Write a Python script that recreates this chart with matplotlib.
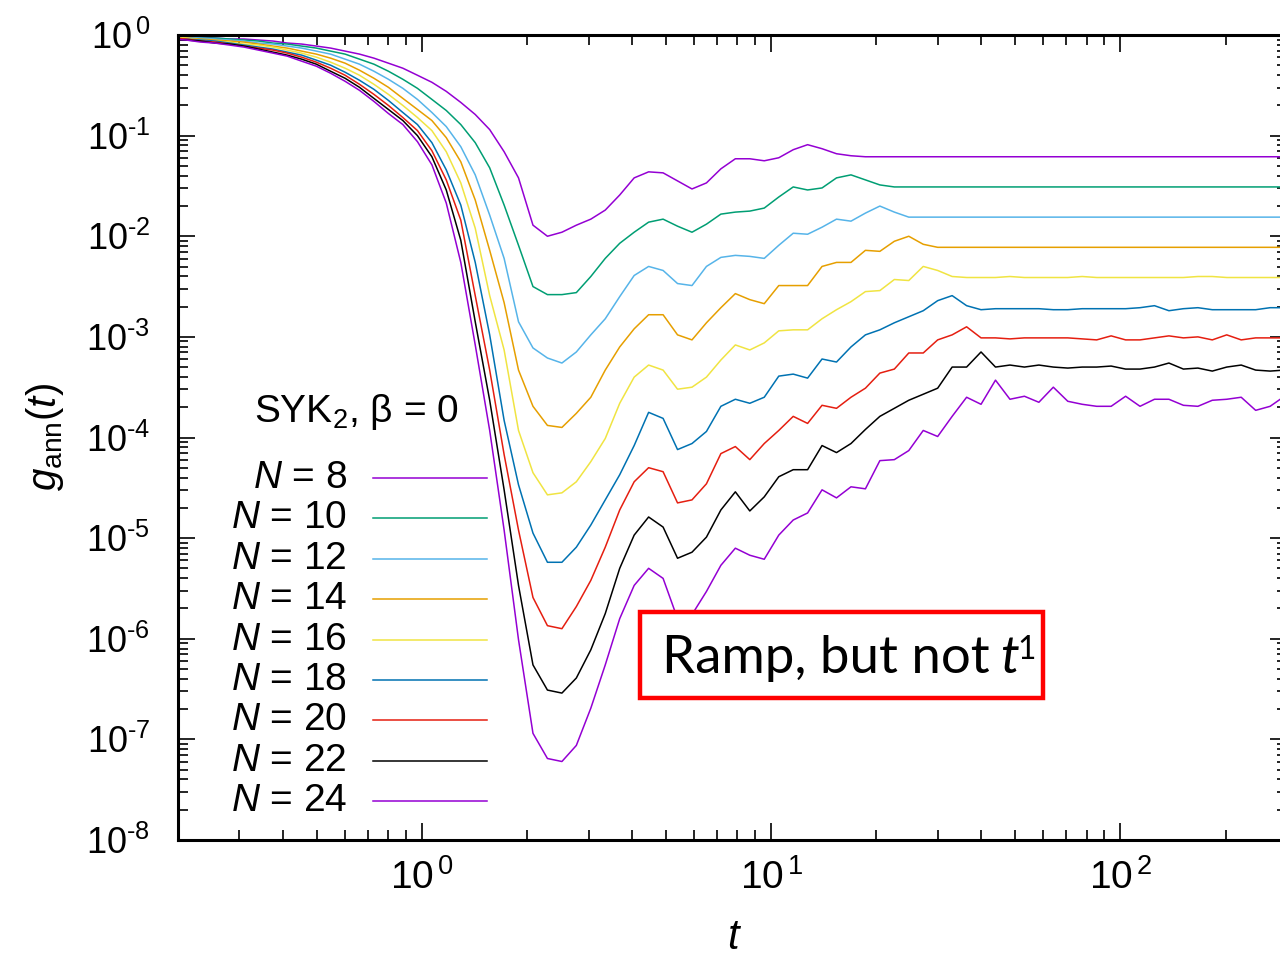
import numpy as np
import matplotlib.pyplot as plt
from matplotlib.lines import Line2D
from matplotlib.patches import Rectangle
from matplotlib.ticker import NullFormatter, LogLocator

# sample times (log spaced, factor ~1.1)
t = [0.192, 0.211, 0.232, 0.255, 0.281, 0.309, 0.340, 0.374, 0.411, 0.452,
     0.498, 0.547, 0.602, 0.662, 0.728, 0.801, 0.881, 0.970, 1.067, 1.173,
     1.291, 1.420, 1.562, 1.718, 1.889, 2.078, 2.286, 2.515, 2.766, 3.043,
     3.347, 3.682, 4.050, 4.455, 4.901, 5.391, 5.930, 6.523, 7.175, 7.893,
     8.682, 9.550, 10.51, 11.56, 12.71, 13.98, 15.38, 16.92, 18.61, 20.47,
     22.52, 24.77, 27.25, 29.97, 32.97, 36.27, 39.89, 43.88, 48.27, 53.10,
     58.41, 64.25, 70.68, 77.74, 85.52, 94.07, 103.5, 113.8, 125.2, 137.7,
     151.5, 166.7, 183.3, 201.6, 221.8, 244.0, 268.4, 295.2]

# log10 g_ann(t)
lg8 = [-0.01, -0.02, -0.02, -0.03, -0.04, -0.04, -0.05, -0.06, -0.08, -0.09,
       -0.11, -0.13, -0.16, -0.19, -0.23, -0.28, -0.33, -0.40, -0.47, -0.56,
       -0.67, -0.79, -0.94, -1.16, -1.42, -1.89, -2.00, -1.96, -1.89, -1.83,
       -1.74, -1.59, -1.42, -1.36, -1.37, -1.45, -1.53, -1.47, -1.33, -1.23,
       -1.23, -1.25, -1.22, -1.14, -1.09, -1.13, -1.18, -1.20, -1.21, -1.21,
       -1.21, -1.21, -1.21, -1.21, -1.21, -1.21, -1.21, -1.21, -1.21, -1.21,
       -1.21, -1.21, -1.21, -1.21, -1.21, -1.21, -1.21, -1.21, -1.21, -1.21,
       -1.21, -1.21, -1.21, -1.21, -1.21, -1.21, -1.21, -1.21]
lg10 = [-0.01, -0.02, -0.03, -0.03, -0.04, -0.05, -0.06, -0.08, -0.09, -0.11,
        -0.13, -0.16, -0.19, -0.24, -0.29, -0.36, -0.44, -0.53, -0.64, -0.75,
        -0.89, -1.07, -1.32, -1.69, -2.09, -2.50, -2.58, -2.58, -2.56, -2.40,
        -2.22, -2.07, -1.96, -1.86, -1.83, -1.90, -1.96, -1.88, -1.78, -1.76,
        -1.75, -1.72, -1.61, -1.51, -1.54, -1.52, -1.42, -1.39, -1.44, -1.49,
        -1.51, -1.51, -1.51, -1.51, -1.51, -1.51, -1.51, -1.51, -1.51, -1.51,
        -1.51, -1.51, -1.51, -1.51, -1.51, -1.51, -1.51, -1.51, -1.51, -1.51,
        -1.51, -1.51, -1.51, -1.51, -1.51, -1.51, -1.51, -1.51]
lg12 = [-0.02, -0.02, -0.03, -0.04, -0.05, -0.06, -0.08, -0.09, -0.11, -0.13,
        -0.16, -0.19, -0.24, -0.29, -0.36, -0.44, -0.53, -0.64, -0.77, -0.91,
        -1.11, -1.39, -1.79, -2.22, -2.85, -3.11, -3.21, -3.26, -3.15, -2.98,
        -2.82, -2.60, -2.39, -2.30, -2.34, -2.47, -2.49, -2.30, -2.21, -2.19,
        -2.20, -2.22, -2.09, -1.97, -1.98, -1.91, -1.83, -1.85, -1.77, -1.70,
        -1.76, -1.81, -1.81, -1.81, -1.81, -1.81, -1.81, -1.81, -1.81, -1.81,
        -1.81, -1.81, -1.81, -1.81, -1.81, -1.81, -1.81, -1.81, -1.81, -1.81,
        -1.81, -1.81, -1.81, -1.81, -1.81, -1.81, -1.81, -1.81]
lg14 = [-0.02, -0.03, -0.04, -0.05, -0.06, -0.07, -0.09, -0.11, -0.13, -0.16,
        -0.19, -0.23, -0.28, -0.35, -0.43, -0.52, -0.63, -0.74, -0.85, -1.02,
        -1.26, -1.64, -2.14, -2.66, -3.33, -3.69, -3.88, -3.90, -3.76, -3.60,
        -3.33, -3.10, -2.92, -2.78, -2.78, -2.98, -3.03, -2.86, -2.71, -2.57,
        -2.63, -2.67, -2.49, -2.49, -2.49, -2.30, -2.26, -2.26, -2.14, -2.15,
        -2.05, -2.00, -2.08, -2.11, -2.11, -2.11, -2.11, -2.11, -2.11, -2.11,
        -2.11, -2.11, -2.11, -2.11, -2.11, -2.11, -2.11, -2.11, -2.11, -2.11,
        -2.11, -2.11, -2.11, -2.11, -2.11, -2.11, -2.11, -2.11]
lg16 = [-0.02, -0.03, -0.05, -0.06, -0.07, -0.09, -0.10, -0.12, -0.15, -0.18,
        -0.22, -0.27, -0.33, -0.40, -0.49, -0.59, -0.70, -0.82, -0.95, -1.16,
        -1.47, -1.92, -2.59, -3.13, -3.93, -4.35, -4.57, -4.55, -4.44, -4.24,
        -4.01, -3.66, -3.40, -3.28, -3.33, -3.52, -3.50, -3.40, -3.23, -3.08,
        -3.13, -3.06, -2.94, -2.93, -2.93, -2.82, -2.73, -2.65, -2.55, -2.54,
        -2.43, -2.44, -2.30, -2.34, -2.40, -2.41, -2.41, -2.41, -2.40, -2.41,
        -2.41, -2.41, -2.41, -2.40, -2.41, -2.41, -2.41, -2.41, -2.41, -2.41,
        -2.41, -2.40, -2.40, -2.41, -2.41, -2.41, -2.41, -2.41]
lg18 = [-0.03, -0.04, -0.05, -0.06, -0.08, -0.10, -0.12, -0.14, -0.17, -0.20,
        -0.25, -0.30, -0.37, -0.45, -0.54, -0.65, -0.77, -0.89, -1.07, -1.34,
        -1.69, -2.26, -2.98, -3.83, -4.47, -4.95, -5.24, -5.24, -5.09, -4.87,
        -4.62, -4.37, -4.08, -3.75, -3.81, -4.12, -4.06, -3.94, -3.69, -3.62,
        -3.66, -3.60, -3.39, -3.37, -3.41, -3.22, -3.25, -3.10, -2.98, -2.93,
        -2.86, -2.80, -2.74, -2.64, -2.59, -2.69, -2.73, -2.72, -2.72, -2.72,
        -2.72, -2.73, -2.73, -2.72, -2.72, -2.72, -2.72, -2.71, -2.69, -2.74,
        -2.72, -2.71, -2.73, -2.73, -2.73, -2.73, -2.71, -2.71]
lg20 = [-0.03, -0.04, -0.06, -0.07, -0.09, -0.11, -0.13, -0.15, -0.18, -0.22,
        -0.27, -0.33, -0.40, -0.49, -0.59, -0.70, -0.82, -0.95, -1.15, -1.44,
        -1.84, -2.59, -3.33, -4.17, -4.92, -5.59, -5.87, -5.90, -5.68, -5.42,
        -5.09, -4.72, -4.44, -4.30, -4.34, -4.65, -4.62, -4.46, -4.16, -4.09,
        -4.22, -4.06, -3.93, -3.79, -3.86, -3.68, -3.71, -3.60, -3.51, -3.36,
        -3.32, -3.16, -3.16, -3.03, -2.98, -2.90, -3.01, -3.01, -3.02, -3.01,
        -3.01, -3.01, -3.01, -3.02, -3.03, -2.99, -3.03, -3.03, -3.01, -2.99,
        -3.01, -3.00, -3.03, -2.98, -3.03, -3.01, -3.01, -3.01]
lg22 = [-0.04, -0.05, -0.06, -0.08, -0.09, -0.11, -0.14, -0.17, -0.20, -0.24,
        -0.29, -0.36, -0.43, -0.52, -0.63, -0.74, -0.85, -1.00, -1.21, -1.54,
        -2.04, -2.85, -3.63, -4.52, -5.47, -6.26, -6.51, -6.54, -6.39, -6.11,
        -5.75, -5.30, -4.97, -4.79, -4.89, -5.20, -5.14, -4.99, -4.72, -4.54,
        -4.73, -4.59, -4.39, -4.32, -4.32, -4.08, -4.15, -4.06, -3.92, -3.79,
        -3.71, -3.63, -3.57, -3.51, -3.30, -3.30, -3.15, -3.30, -3.28, -3.30,
        -3.28, -3.30, -3.31, -3.30, -3.30, -3.29, -3.32, -3.32, -3.30, -3.26,
        -3.32, -3.31, -3.34, -3.30, -3.28, -3.33, -3.34, -3.33]
lg24 = [-0.04, -0.05, -0.07, -0.08, -0.10, -0.12, -0.15, -0.18, -0.21, -0.26,
        -0.31, -0.38, -0.46, -0.55, -0.66, -0.78, -0.89, -1.06, -1.29, -1.67,
        -2.26, -3.08, -3.93, -4.92, -6.01, -6.94, -7.19, -7.22, -7.06, -6.69,
        -6.26, -5.80, -5.47, -5.30, -5.40, -5.80, -5.76, -5.53, -5.27, -5.10,
        -5.17, -5.21, -4.97, -4.82, -4.75, -4.52, -4.60, -4.49, -4.51, -4.23,
        -4.22, -4.13, -3.93, -3.99, -3.79, -3.60, -3.67, -3.43, -3.62, -3.59,
        -3.65, -3.50, -3.64, -3.67, -3.69, -3.69, -3.59, -3.69, -3.62, -3.62,
        -3.68, -3.69, -3.63, -3.62, -3.60, -3.73, -3.69, -3.59]

sizes = [8, 10, 12, 14, 16, 18, 20, 22, 24]
series = [lg8, lg10, lg12, lg14, lg16, lg18, lg20, lg22, lg24]
colors = ['#9400d3', '#009e73', '#56b4e9', '#e69f00', '#f0e442',
          '#0072b2', '#e51e10', '#000000', '#9400d3']

plt.rcParams['font.family'] = 'Liberation Sans'
plt.rcParams['mathtext.fontset'] = 'custom'
plt.rcParams['mathtext.rm'] = 'Liberation Sans'
plt.rcParams['mathtext.it'] = 'Liberation Sans:italic'

W, H = 1280, 956
fig = plt.figure(figsize=(W / 100, H / 100), dpi=100)
ax = fig.add_axes([178 / W, 1 - 840 / H, (1287 - 178) / W, 805 / H])

for n, lg, c in zip(sizes, series, colors):
    ax.plot(t[:len(lg)], 10.0 ** np.array(lg), color=c, lw=1.1)

ax.set_xscale('log')
ax.set_yscale('log')
ax.set_xlim(0.2, 300)
ax.set_ylim(1e-8, 1)

ax.set_xticks([1, 10, 100])
ax.set_xticklabels([r'$10^{\,0}$', r'$10^{\,1}$', r'$10^{\,2}$'], fontsize=28)
ax.set_yticks([10.0 ** -i for i in range(9)])
ax.set_yticklabels([r'$10^{\,0}$'] + [r'$10^{\text{-}%d}$' % i for i in range(1, 9)],
                   fontsize=26)
ax.xaxis.set_minor_locator(LogLocator(base=10, subs=np.arange(2, 10), numticks=20))
ax.yaxis.set_minor_locator(LogLocator(base=10, subs=np.arange(2, 10), numticks=20))
ax.xaxis.set_minor_formatter(NullFormatter())
ax.yaxis.set_minor_formatter(NullFormatter())
ax.tick_params(which='both', direction='in', top=True, right=True, width=1.2)
ax.tick_params(which='major', length=12)
ax.tick_params(which='minor', length=7)
ax.tick_params(axis='x', pad=14)
ax.tick_params(axis='y', pad=20)
for s in ax.spines.values():
    s.set_linewidth(2.2)

fig.text(45 / W, 1 - 437 / H, r'$g_{\mathrm{ann}}(t)$', rotation=90,
         ha='center', va='center', fontsize=29)
fig.text(735 / W, 1 - 938 / H, r'$t$', ha='center', va='center', fontsize=30)

# key
fig.text(356 / W, 1 - 412 / H, r'SYK$_2$, β = 0', ha='center', va='center', fontsize=28)
for i, (n, c) in enumerate(zip(sizes, colors)):
    yy = 1 - (478 + 40.4 * i) / H
    fig.text(347 / W, yy, r'$N$ = %d' % n, ha='right', va='center', fontsize=28)
    fig.add_artist(Line2D([373 / W, 487 / W], [yy, yy], color=c, lw=1.1,
                          transform=fig.transFigure))

# annotation box
fig.add_artist(Rectangle((640 / W, 1 - 698 / H), (1043 - 640) / W, (698 - 612) / H,
                         transform=fig.transFigure, facecolor='white',
                         edgecolor='#ff0000', lw=3.2))
fs = 38
base_y = 1 - 673 / H
t1 = fig.text(662 / W, base_y, 'Ramp, but not', family='Lato', fontsize=fs,
              va='baseline')
r = fig.canvas.get_renderer()
bb = t1.get_window_extent(renderer=r)
x_t = bb.x1 + 0.27 * fs
t2 = fig.text(x_t / W, base_y, 't', family='Lato', style='italic', fontsize=fs,
              va='baseline')
bb2 = t2.get_window_extent(renderer=r)
fig.text((bb2.x1 - 1) / W, base_y + 0.36 * fs / H, '1', family='Lato',
         fontsize=fs * 0.6, va='baseline')

fig.savefig('out.png', dpi=100)
